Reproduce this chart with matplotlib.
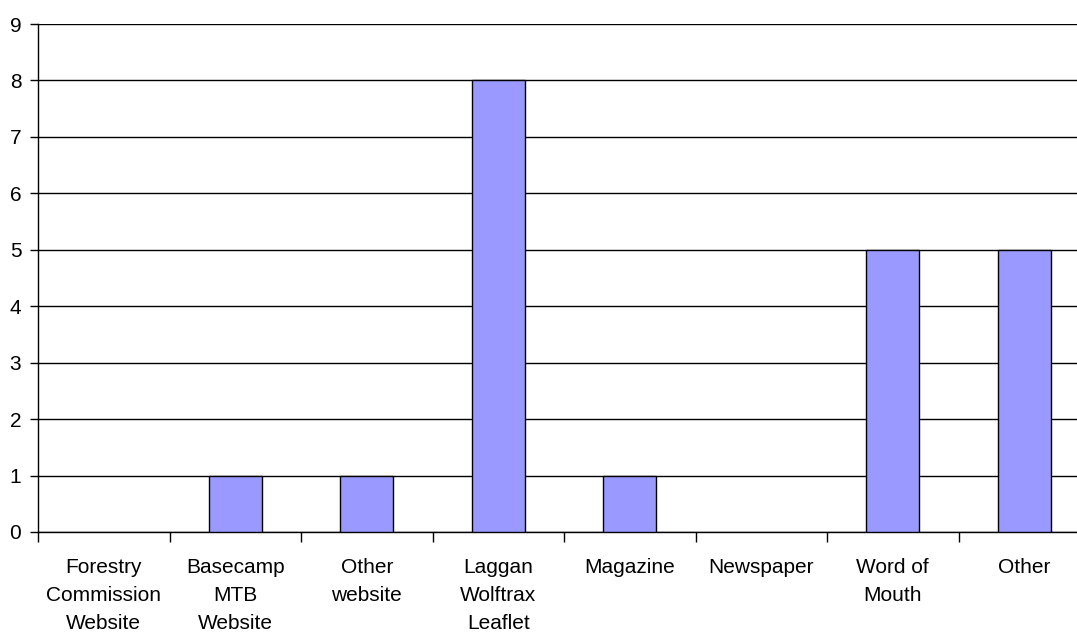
import numpy as np
import matplotlib.pyplot as plt

plt.rcParams['font.family'] = ['Liberation Sans', 'DejaVu Sans']

categories = ['Forestry\nCommission\nWebsite', 'Basecamp\nMTB\nWebsite', 'Other\nwebsite',
              'Laggan\nWolftrax\nLeaflet', 'Magazine', 'Newspaper', 'Word of\nMouth', 'Other']
counts = [0, 1, 1, 8, 1, 0, 5, 5]

fig = plt.figure(figsize=(10.77, 6.33), dpi=100)
# right edge of the plot area runs past the figure edge, as in the original
ax = fig.add_axes([0.0353, 0.1596, 0.9768, 0.8024])

x = np.arange(len(categories))
edges = ['black' if c > 0 else 'none' for c in counts]
ax.bar(x, counts, width=0.4, color='#9999ff', edgecolor=edges, linewidth=1, zorder=3)

ax.set_xlim(-0.5, len(categories) - 0.5)
ax.set_ylim(0, 9)
ax.set_yticks(range(10))
ax.yaxis.grid(True, color='black', linewidth=1)
ax.set_axisbelow(True)

ax.set_xticks(x)
ax.set_xticklabels(categories, fontsize=15, linespacing=1.58, va='top')
ax.set_xticks(np.arange(-0.5, len(categories), 1), minor=True)
ax.tick_params(axis='x', which='major', length=0, pad=19)
ax.tick_params(axis='x', which='minor', length=7, width=1, color='black')
ax.tick_params(axis='y', length=6, width=1, labelsize=15, pad=6)

for s in ['top', 'right']:
    ax.spines[s].set_visible(False)
ax.spines['left'].set_linewidth(1)
ax.spines['bottom'].set_linewidth(1)

fig.savefig('out.png', dpi=100)
